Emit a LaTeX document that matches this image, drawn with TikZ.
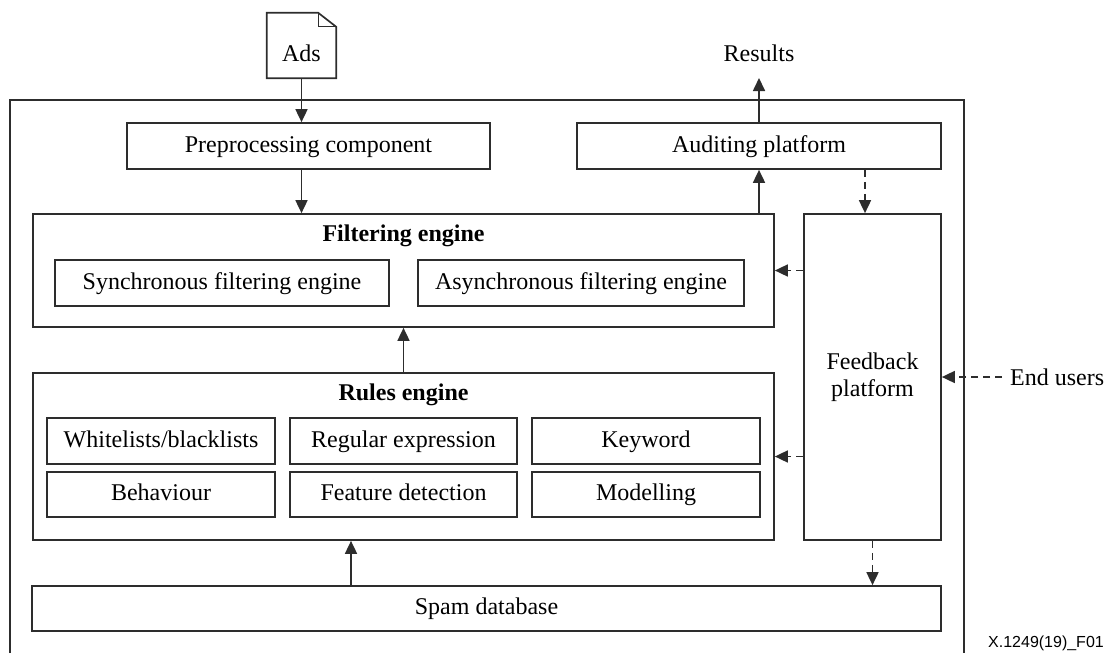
\documentclass[tikz,border=0pt]{standalone}
\usepackage{fontspec}
\setmainfont{Liberation Serif}
\newfontfamily\codefont{Liberation Sans}
\usetikzlibrary{arrows.meta}
\definecolor{ink}{RGB}{45,45,45}
\tikzset{
  >={Triangle[length=13pt,width=12pt]},
  box/.style={draw=ink,line width=1.7pt,inner sep=0pt,minimum height=46pt,
    align=center,font=\fontsize{24}{27}\selectfont},
  cell/.style={box,text height=17pt,text depth=5pt},
  title/.style={font=\fontsize{24}{27}\selectfont\bfseries},
  tag/.style={font=\fontsize{24}{27}\selectfont},
  flow/.style={->,line width=1.7pt,draw=ink},
  dashflow/.style={flow,dash pattern=on 7pt off 5pt},
}
\begin{document}
\begin{tikzpicture}[x=1pt,y=-1pt]
  \useasboundingbox (0,0) rectangle (1107,653);
  % outer frame, open at the bottom
  \draw[ink,line width=1.7pt] (10,653) -- (10,100) -- (964,100) -- (964,653);

  % ads document
  \node[tag,minimum width=69pt,minimum height=65pt,text height=31pt,text depth=0pt] (ads) at (301.5,45.5) {Ads};
  \draw[ink,line width=1.7pt] (ads.south west) -- (ads.north west) -- ([xshift=-18pt]ads.north east)
    -- ([yshift=-14pt]ads.north east) -- (ads.south east) -- cycle;
  \draw[ink,line width=1.1pt] ([xshift=-18pt]ads.north east) |- ([yshift=-14pt]ads.north east);

  \node[cell,minimum width=363pt] (pre) at (308.5,146) {Preprocessing component};
  \node[cell,minimum width=364pt] (aud) at (759,146) {Auditing platform};
  \coordinate (restip) at (759,78);
  \node[tag,anchor=south,inner sep=0pt] (res) at (759,62) {Results};

  % filtering engine
  \node[box,minimum width=741pt,minimum height=113pt] (filt) at (403.5,270.5) {};
  \node[title] (filtt) at (403.5,236) {Filtering engine};
  \node[cell,minimum width=334pt] (sync) at (222,283) {Synchronous filtering engine};
  \node[cell,minimum width=326pt] (async) at (581,283) {Asynchronous filtering engine};

  % rules engine
  \node[box,minimum width=741pt,minimum height=167pt] (rules) at (403.5,456.5) {};
  \node[title] (rulest) at (403.5,395) {Rules engine};
  \node[cell,minimum width=228pt] (wl) at (161,441) {Whitelists/blacklists};
  \node[cell,minimum width=227pt] (re) at (403.5,441) {Regular expression};
  \node[cell,minimum width=228pt] (kw) at (646,441) {Keyword};
  \node[cell,minimum width=228pt,minimum height=45pt] (beh) at (161,494.5) {Behaviour};
  \node[cell,minimum width=227pt,minimum height=45pt] (fd) at (403.5,494.5) {Feature detection};
  \node[cell,minimum width=228pt,minimum height=45pt] (mod) at (646,494.5) {Modelling};

  \node[box,minimum width=137pt,minimum height=326pt] (fb) at (872.5,377) {Feedback\\platform};
  \node[cell,minimum width=909pt,minimum height=45pt] (spam) at (486.5,608.5) {Spam database};

  \node[tag,anchor=west,inner sep=8pt] (eu) at (1002,377) {End users};
  \node[font=\fontsize{16}{18}\codefont] (fig) at (1046,643) {X.1249(19)\_F01};

  \coordinate (sp) at (351,0);
  \coordinate (af) at (865,0);

  \draw[flow] (ads.south) -- (pre.north -| ads);
  \draw[flow] (pre.south -| ads) -- (filt.north -| ads);
  \draw[flow] (filt.north -| aud) -- (aud.south);
  \draw[flow] (aud.north) -- (restip);
  \draw[flow] (rules.north) -- (filt.south);
  \draw[flow] (spam.north -| sp) -- (rules.south -| sp);
  \draw[dashflow] (aud.south -| af) -- (fb.north -| af);
  \draw[dashflow] (fb.south) -- (spam.north -| fb);
  \draw[dashflow] (fb.west |- filt) -- (filt.east);
  \draw[dashflow] (fb.west |- rules) -- (rules.east);
  \draw[dashflow] (eu.west) -- (fb.east |- eu);
\end{tikzpicture}
\end{document}
